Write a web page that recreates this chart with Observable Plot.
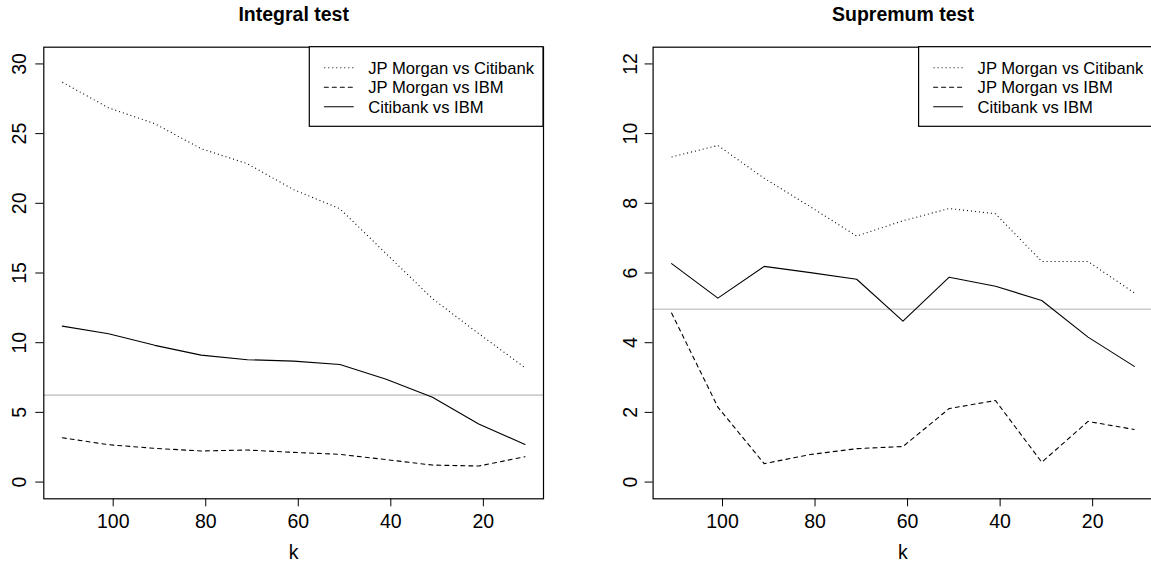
<!DOCTYPE html>
<html>
<head>
<meta charset="utf-8">
<script src="https://cdn.jsdelivr.net/npm/d3@7"></script>
<script src="https://cdn.jsdelivr.net/npm/@observablehq/plot@0.6"></script>
<style>
html, body { margin: 0; padding: 0; background: #fff; overflow: hidden; }
#wrap { position: relative; width: 1151px; height: 562px; overflow: hidden; background: #fff; }
#wrap svg { position: absolute; top: 0; }
</style>
</head>
<body>
<div id="wrap"></div>
<script>
// ---- data ----
const k = [111, 101, 91, 81, 71, 61, 51, 41, 31, 21, 11];
const seriesNames = ["JP Morgan vs Citibank", "JP Morgan vs IBM", "Citibank vs IBM"];

const integralJPMvsCiti = [28.69, 26.85, 25.71, 23.92, 22.84, 20.98, 19.61, 16.38, 13.16, 10.65, 8.21];
const integralJPMvsIBM  = [3.18, 2.68, 2.42, 2.23, 2.30, 2.13, 1.99, 1.61, 1.22, 1.15, 1.82];
const integralCitivsIBM = [11.19, 10.64, 9.81, 9.11, 8.78, 8.68, 8.44, 7.37, 6.08, 4.16, 2.70];
const integralCritical = 6.24;

const supremumJPMvsCiti = [9.33, 9.66, 8.72, 7.90, 7.06, 7.50, 7.85, 7.70, 6.33, 6.33, 5.43];
const supremumJPMvsIBM  = [4.85, 2.15, 0.53, 0.79, 0.96, 1.02, 2.11, 2.34, 0.57, 1.74, 1.51];
const supremumCitivsIBM = [6.27, 5.28, 6.19, 6.01, 5.82, 4.62, 5.88, 5.62, 5.21, 4.16, 3.32];
const supremumCritical = 4.96;

const xTicks = [100, 80, 60, 40, 20];
const integralYTicks = [0, 5, 10, 15, 20, 25, 30];
const supremumYTicks = [0, 2, 4, 6, 8, 10, 12];
const xLabel = "k";
const titles = ["Integral test", "Supremum test"];

// ---- styles ----
const FONT = '"Liberation Sans", Arial, Helvetica, sans-serif';
const dashes = ["1,3", "4,4", undefined];
const caps = ["butt", "round", "round"];
const MT = 46.7, MB = 63.7, H = 562;

function rows(vals) { return k.map((kk, i) => ({k: kk, v: vals[i]})); }

function panel({title, values, crit, yTicks, yDomain, width, marginLeft, marginRight, yPad}) {
  return Plot.plot({
    width, height: H, marginLeft, marginRight, marginTop: MT, marginBottom: MB,
    style: {fontFamily: FONT, fontSize: "19.5px", background: "transparent", color: "black", overflow: "visible"},
    x: {domain: [115, 7], axis: null},
    y: {domain: yDomain, axis: null},
    marks: [
      Plot.ruleY([crit], {stroke: "#cccccc", strokeWidth: 1.6}),
      ...values.map((vals, i) => Plot.line(rows(vals), {
        x: "k", y: "v", stroke: "black", strokeWidth: 1.1,
        strokeDasharray: dashes[i], strokeLinecap: caps[i]
      })),
      Plot.frame({stroke: "black", strokeWidth: 1.2}),
      Plot.axisX(xTicks, {tickSize: 8, tickPadding: 7, fontSize: 19.5, label: null}),
      Plot.axisY(yTicks, {tickSize: 8, tickPadding: yPad, tickRotate: -90, fontSize: 19.5, label: null}),
      Plot.text([title], {text: d => d, frameAnchor: "top", lineAnchor: "middle", dy: -32.5, fontWeight: "bold", fontSize: 19.5}),
      Plot.text([xLabel], {text: d => d, frameAnchor: "bottom", lineAnchor: "middle", dy: 53.7, fontSize: 19.5})
    ]
  });
}

const wrap = document.getElementById("wrap");

const leftW = 575, leftML = 43.3, leftMR = 32;
const rightX = 575, rightW = 578, rightML = 77.6, rightMR = 0.7;

const p1 = panel({
  title: titles[0],
  values: [integralJPMvsCiti, integralJPMvsIBM, integralCitivsIBM],
  crit: integralCritical, yTicks: integralYTicks, yDomain: [-1.2, 31.2],
  width: leftW, marginLeft: leftML, marginRight: leftMR, yPad: 10.3
});
p1.style.left = "0px";
wrap.appendChild(p1);

const p2 = panel({
  title: titles[1],
  values: [supremumJPMvsCiti, supremumJPMvsIBM, supremumCitivsIBM],
  crit: supremumCritical, yTicks: supremumYTicks, yDomain: [-0.48, 12.48],
  width: rightW, marginLeft: rightML, marginRight: rightMR, yPad: 7.7
});
p2.style.left = rightX + "px";
wrap.appendChild(p2);

// ---- legends (overlay) ----
const ov = d3.select(wrap).append("svg")
  .attr("width", 1151).attr("height", H)
  .style("left", "0px").style("pointer-events", "none");

function legend(frameRight) {
  const boxW = 233.7, boxH = 79.6, top = MT;
  const left = frameRight - boxW;
  ov.append("rect").attr("x", left).attr("y", top).attr("width", boxW).attr("height", boxH)
    .attr("fill", "white").attr("stroke", "black").attr("stroke-width", 1.2);
  seriesNames.forEach((name, i) => {
    const base = 73.8 + i * 19.45;
    const ly = base - 6;
    const ln = ov.append("line").attr("x1", left + 15).attr("x2", left + 44)
      .attr("y1", ly).attr("y2", ly).attr("stroke", "black").attr("stroke-width", 1.1)
      .attr("stroke-linecap", caps[i]);
    if (dashes[i]) ln.attr("stroke-dasharray", dashes[i]);
    ov.append("text").attr("x", left + 59).attr("y", base)
      .attr("font-family", FONT).attr("font-size", 16.6).attr("fill", "black").text(name);
  });
}
legend(leftW - leftMR);
legend(rightX + rightW - rightMR);
</script>
</body>
</html>
